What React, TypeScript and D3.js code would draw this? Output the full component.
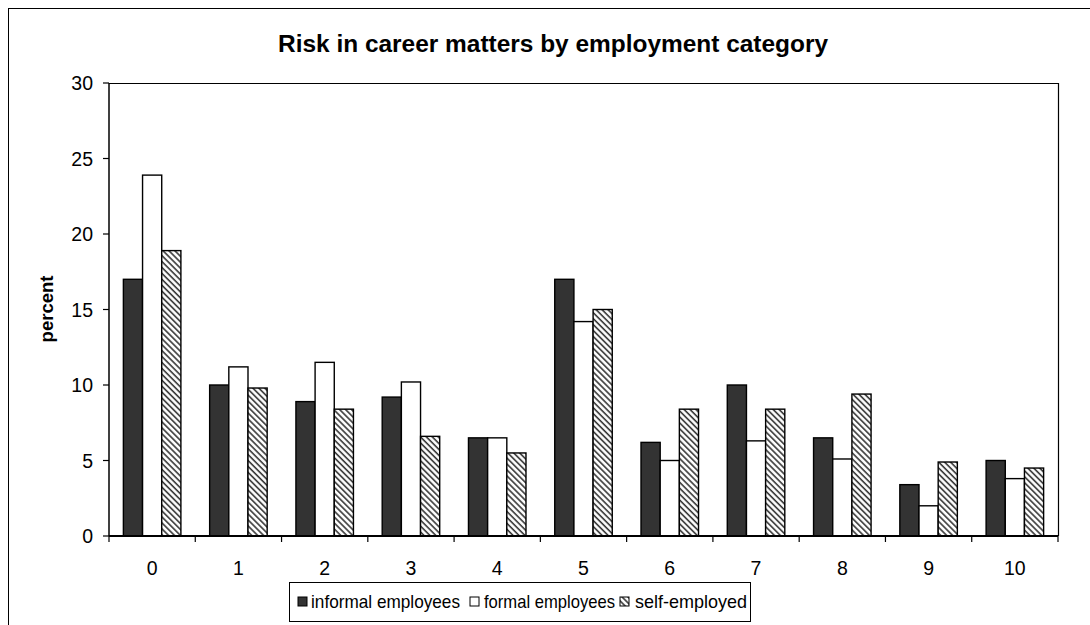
import React from "react";
import * as d3 from "d3";

const categories = ["0", "1", "2", "3", "4", "5", "6", "7", "8", "9", "10"];
const informalEmployees = [17.0, 10.0, 8.9, 9.2, 6.5, 17.0, 6.2, 10.0, 6.5, 3.4, 5.0];
const formalEmployees = [23.9, 11.2, 11.5, 10.2, 6.5, 14.2, 5.0, 6.3, 5.1, 2.0, 3.8];
const selfEmployed = [18.9, 9.8, 8.4, 6.6, 5.5, 15.0, 8.4, 8.4, 9.4, 4.9, 4.5];
const seriesNames = ["informal employees", "formal employees", "self-employed"];
const yTicks = [0, 5, 10, 15, 20, 25, 30];

const FONT = "Arial, 'Liberation Sans', sans-serif";

export default function App() {
  const W = 1090;
  const H = 625;
  const left = 109;
  const right = 1058;
  const top = 83;
  const bottom = 536;

  const x = d3.scaleBand<string>().domain(categories).range([left, right]).paddingInner(0).paddingOuter(0);
  const xs = d3.scaleBand<string>().domain(seriesNames).range([0, x.bandwidth()]).paddingInner(0).paddingOuter(0.75);
  const y = d3.scaleLinear().domain([0, 30]).range([bottom, top]);

  const seriesValues = [informalEmployees, formalEmployees, selfEmployed];
  const fills = ["#333333", "#ffffff", "url(#hatch)"];

  const boundaries = d3.range(categories.length + 1).map((i) => left + i * x.step());

  const legendItems = [
    { name: seriesNames[0], fill: fills[0], sx: 298, tx: 311, tw: 149 },
    { name: seriesNames[1], fill: fills[1], sx: 470, tx: 484, tw: 131 },
    { name: seriesNames[2], fill: fills[2], sx: 620, tx: 635, tw: 112 },
  ];

  return (
    <svg
      width={W}
      height={H}
      style={{ position: "fixed", top: 0, left: 0, background: "#fff" }}
      fontFamily={FONT}
    >
      <defs>
        <pattern id="hatch" width="4.2" height="4.2" patternUnits="userSpaceOnUse" patternTransform="rotate(-45)">
          <rect width="4.2" height="4.2" fill="#ffffff" />
          <line x1="1" y1="0" x2="1" y2="4.2" stroke="#333" strokeWidth="1.6" />
        </pattern>
      </defs>
      <rect x={0} y={0} width={W} height={H} fill="#fff" />
      {/* outer frame */}
      <rect x={8.5} y={8.5} width={1100} height={700} fill="none" stroke="#000" strokeWidth={1} />

      {/* title */}
      <text
        x={553}
        y={52}
        textAnchor="middle"
        fontSize={23.5}
        fontWeight="bold"
        fill="#000"
        textLength={550}
        lengthAdjust="spacingAndGlyphs"
      >
        Risk in career matters by employment category
      </text>

      {/* plot area border */}
      <line x1={left} y1={top + 0.5} x2={right} y2={top + 0.5} stroke="#000" strokeWidth={1.2} />
      <line x1={right + 0.5} y1={top} x2={right + 0.5} y2={bottom} stroke="#000" strokeWidth={1.2} />

      {/* bars */}
      {categories.map((c, i) => (
        <g key={c}>
          {seriesValues.map((vals, s) => {
            const bx = (x(c) as number) + (xs(seriesNames[s]) as number);
            const by = y(vals[i]);
            return (
              <rect
                key={s}
                x={bx}
                y={by}
                width={xs.bandwidth()}
                height={bottom - by}
                fill={fills[s]}
                stroke="#000"
                strokeWidth={1.4}
              />
            );
          })}
        </g>
      ))}

      {/* y axis */}
      <line x1={left} y1={top} x2={left} y2={bottom} stroke="#000" strokeWidth={1.5} />
      {yTicks.map((t) => (
        <g key={t}>
          <line x1={left - 6} y1={y(t)} x2={left} y2={y(t)} stroke="#000" strokeWidth={1.2} />
          <text x={93} y={y(t)} dy="0.36em" textAnchor="end" fontSize={19.5} fill="#000">
            {t}
          </text>
        </g>
      ))}
      <text
        transform={`translate(52.5, 309) rotate(-90)`}
        textAnchor="middle"
        fontSize={18.5}
        fontWeight="bold"
        fill="#000"
      >
        percent
      </text>

      {/* x axis */}
      <line x1={left} y1={bottom} x2={right} y2={bottom} stroke="#000" strokeWidth={1.8} />
      {boundaries.map((bx, i) => (
        <line key={i} x1={bx} y1={bottom} x2={bx} y2={bottom + 6} stroke="#000" strokeWidth={1.2} />
      ))}
      {categories.map((c) => (
        <text
          key={c}
          x={(x(c) as number) + x.bandwidth() / 2}
          y={575}
          textAnchor="middle"
          fontSize={19.5}
          fill="#000"
        >
          {c}
        </text>
      ))}

      {/* legend */}
      <rect x={289.5} y={582.5} width={461} height={39} fill="#fff" stroke="#000" strokeWidth={1} />
      {legendItems.map((it) => (
        <g key={it.name}>
          <rect x={it.sx} y={597} width={9} height={9} fill={it.fill} stroke="#000" strokeWidth={1} />
          <text
            x={it.tx}
            y={608}
            fontSize={18.5}
            fill="#000"
            textLength={it.tw}
            lengthAdjust="spacingAndGlyphs"
          >
            {it.name}
          </text>
        </g>
      ))}
    </svg>
  );
}
